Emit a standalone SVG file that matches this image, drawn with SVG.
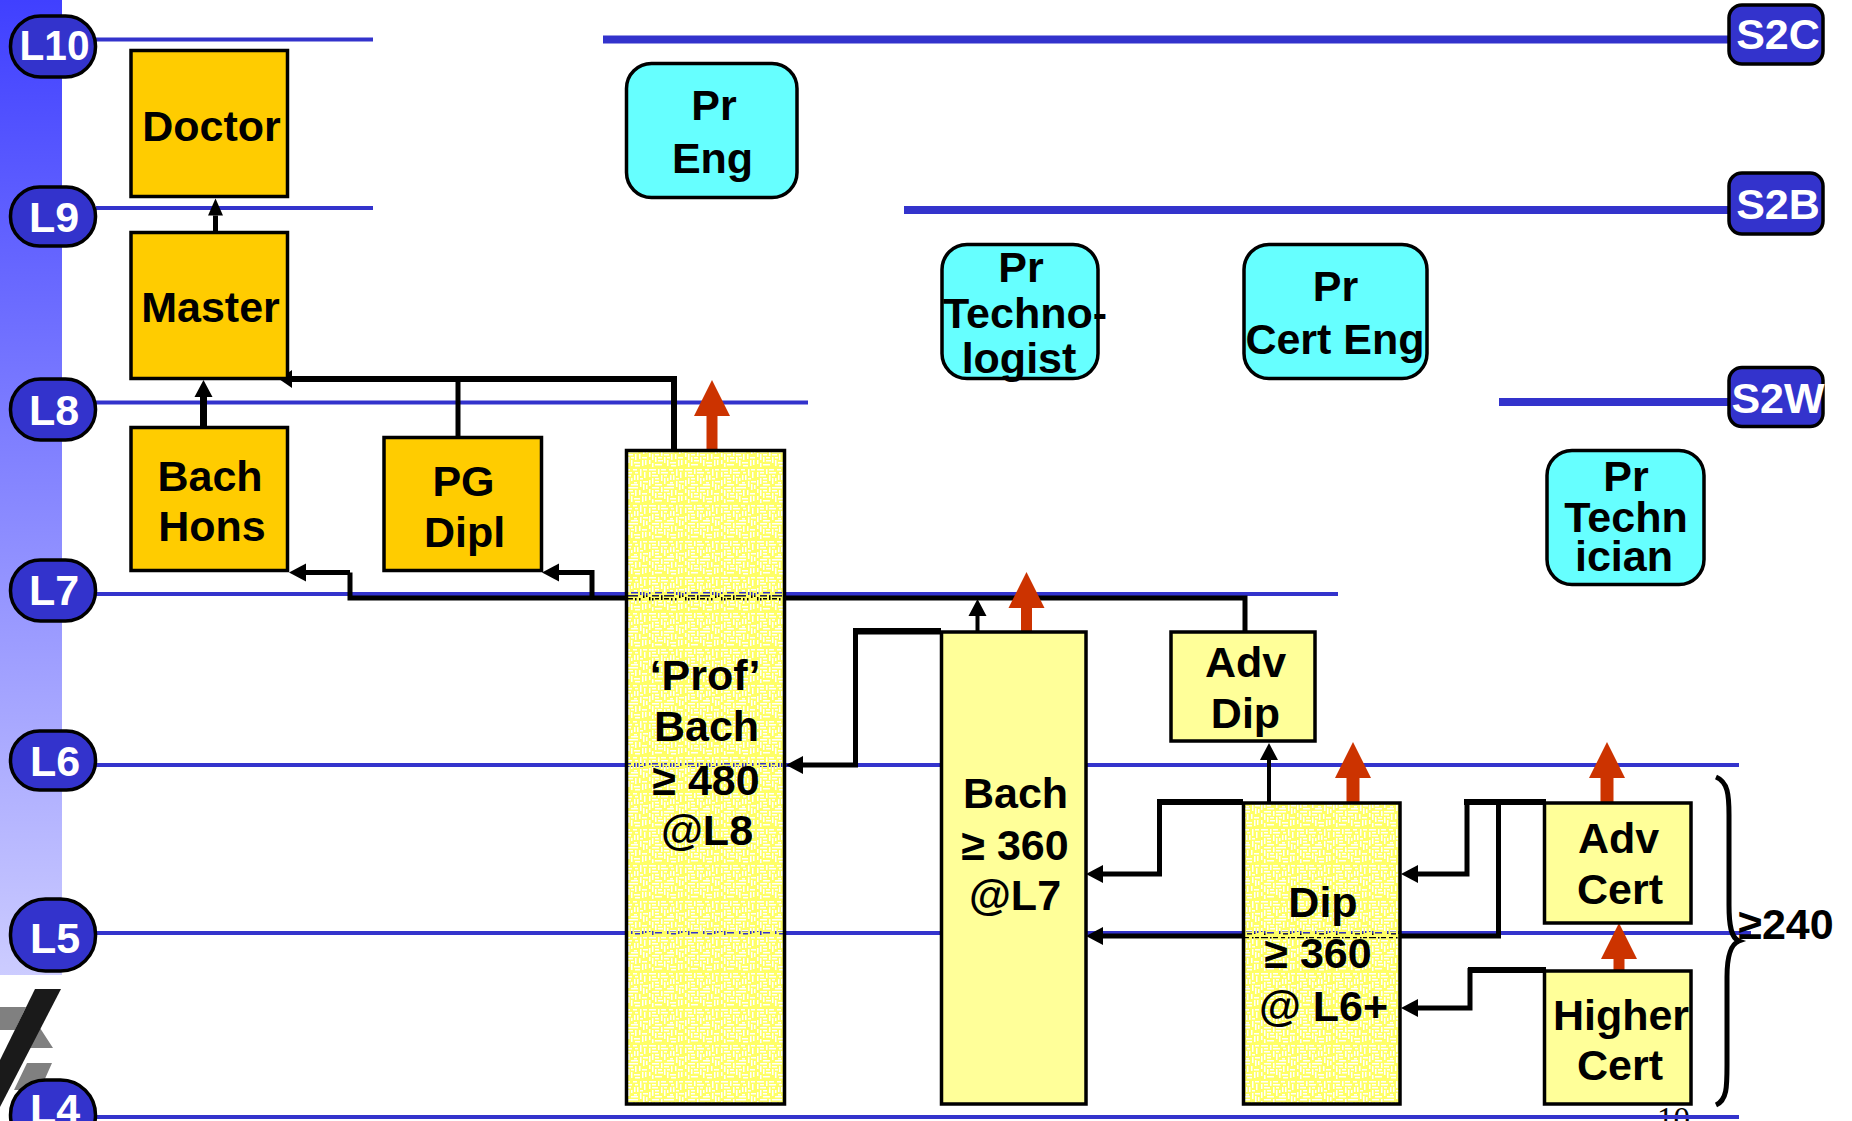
<svg xmlns="http://www.w3.org/2000/svg" width="1852" height="1121" viewBox="0 0 1852 1121">
<style>
text{font-family:"Liberation Sans",Arial,sans-serif;font-weight:bold;font-size:43px;fill:#000;text-anchor:middle}
.w{fill:#fff}
.pg{font-family:"Liberation Serif","Times New Roman",serif;font-weight:normal;font-size:33px}
.b{stroke:#000;stroke-width:3.500}
.o{fill:#ffcc00}
.y{fill:#ffff99}
.c{fill:#66ffff}
.t{fill:url(#tex)}
.p{fill:#3333cc}
.lv{stroke:#3333cc;stroke-width:4;fill:none}
.lvt{stroke:#3333cc;stroke-width:8;fill:none}
.k{fill:none;stroke:#000;stroke-width:5}
.st{fill:none;stroke:#000;stroke-width:6}
.r{fill:none;stroke:#cc3300;stroke-width:11}
</style>
<defs>
<linearGradient id="side" x1="0" y1="0" x2="0" y2="1"><stop offset="0" stop-color="#4040ff"/><stop offset="1" stop-color="#ccccff"/></linearGradient>
<pattern id="tex" patternUnits="userSpaceOnUse" width="36" height="36">
<path fill="#ffff66" fill-rule="evenodd" d="M0 0H36V36H0Z M1 1h7v1.500h-7z M10 1h1.500v5h-1.500z M13 1h5v1.500h-5z M21 1h4v1.500h-4z M28 1h1.500v7h-1.500z M31 1h4v1.500h-4z M1 4h1.500v5h-1.500z M4 4h4v1.500h-4z M13 4h7v1.500h-7z M23 4h3v1.500h-3z M32 4h1.500v6h-1.500z M4 7h6v1.500h-6z M13 7h1.500v6h-1.500z M16 7h3v1.500h-3z M22 7h1.500v5h-1.500z M25 7h1.500v5h-1.500z M4 10h1.500v6h-1.500z M7 10h4v1.500h-4z M16 10h1.500v6h-1.500z M19 10h1.500v3h-1.500z M28 10h3v1.500h-3z M7 13h4v1.500h-4z M22 14h3v1.500h-3z M28 13h1.500v6h-1.500z M31 13h5v1.500h-5z M1 12h1.500v6h-1.500z M7 16h7v1.500h-7z M19 16h7v1.500h-7z M31 16h1.500v6h-1.500z M34 17h1.500v4h-1.500z M4 19h7v1.500h-7z M13 19h1.500v5h-1.500z M16 19h10v1.500h-10z M1 21h1.500v4h-1.500z M4 22h1.500v6h-1.500z M7 22h4v1.500h-4z M16 22h5v1.500h-5z M23 22h1.500v6h-1.500z M27 22h1.500v5h-1.500z M7 25h1.500v5h-1.500z M10 25h4v1.500h-4z M16 25h1.500v6h-1.500z M19 25h3v1.500h-3z M30 25h5v1.500h-5z M1 28h1.500v4h-1.500z M10 28h5v1.500h-5z M19 28h1.500v6h-1.500z M30 28h1.500v6h-1.500z M33 28h1.500v5h-1.500z M4 31h1.500v4h-1.500z M7 32h7v1.500h-7z M22 30h6v1.500h-6z M23 33h5v1.500h-5z"/>
</pattern>
<marker id="ak" markerUnits="userSpaceOnUse" markerWidth="18" markerHeight="18" refX="0" refY="9" orient="auto" overflow="visible"><path d="M0 0L17 9L0 18Z" fill="#000"/></marker>
<marker id="ak2" markerUnits="userSpaceOnUse" markerWidth="18" markerHeight="15" refX="0" refY="7.500" orient="auto" overflow="visible"><path d="M0 0L17 7.500L0 15Z" fill="#000"/></marker>
<marker id="ar" markerUnits="userSpaceOnUse" markerWidth="37" markerHeight="37" refX="0" refY="18" orient="auto" overflow="visible"><path d="M0 0L36 18L0 36Z" fill="#cc3300"/></marker>
</defs>
<rect width="1852" height="1121" fill="#fff"/>
<rect id="sidebar" x="0" y="0" width="62" height="975" fill="url(#side)"/>
<g id="logo">
<path d="M0 1007H26L15 1030H0Z M40 1028L53 1048H29Z M27 1063H52L40 1090H14Z" fill="#808080"/>
<path d="M35 989H61L0 1107V1060Z" fill="#1a1a1a"/>
</g>
<text class="pg" x="1673.500" y="1130">10</text>
<g id="levels">
<path class="lv" d="M96 39.500H373M96 208H373M96 402.500H808M96 594H1338M96 765H1739M96 933H1751M96 1117H1739"/>
<path class="lvt" d="M603 39.500H1729M904 210H1729M1499 402H1729"/>
</g>
<g id="connectors">
<path class="k" d="M215.500 234V215.500" marker-end="url(#ak2)"/>
<path class="k" style="stroke-width:7" d="M203.500 427V397" marker-end="url(#ak)"/>
<path class="k" style="stroke-width:6" d="M292 379H674V450"/>
<path d="M292 370L279 379L292 388Z" fill="#000"/>
<path class="k" d="M458 379V437"/>
<path class="k" d="M350 572.500V598H1245V632"/>
<path class="k" d="M350 572.500H306" marker-end="url(#ak)"/>
<path class="k" d="M592 598V572.500H559" marker-end="url(#ak)"/>
<path class="k" style="stroke-width:4" d="M977.500 632V616" marker-end="url(#ak)"/>
<path class="r" d="M712 450V416" marker-end="url(#ar)"/>
<path class="r" d="M1026.500 632V608" marker-end="url(#ar)"/>
<path class="k" d="M941 632H855.500V765H803" marker-end="url(#ak)"/>
<path class="k" d="M1243 802.500H1159.500V874H1103" marker-end="url(#ak)"/>
<path class="k" style="stroke-width:4" d="M1269 803V760" marker-end="url(#ak)"/>
<path class="r" style="stroke-width:13" d="M1353 803V778" marker-end="url(#ar)"/>
<path class="r" style="stroke-width:13" d="M1607 803V778" marker-end="url(#ar)"/>
<path class="k" d="M1544 802.500H1467V874H1418" marker-end="url(#ak)"/>
<path class="k" d="M1498.500 802.500V936H1103" marker-end="url(#ak)"/>
<path class="r" d="M1619 971V959" marker-end="url(#ar)"/>
<path class="k" d="M1546 970.500H1470V1008H1418" marker-end="url(#ak)"/>
<path class="st" d="M941 631H853M1243 802H1157M1546 802H1464M1546 970H1468"/>
</g>
<g id="brace"><path d="M1716 777C1728 782 1729 795 1729 815V905C1729 925 1731 938 1739 941C1731 944 1727 957 1727 977V1065C1727 1087 1727 1100 1716 1105" fill="none" stroke="#000" stroke-width="5"/></g>
<g id="L10"><rect class="p b" x="10.500" y="16" width="85" height="61" rx="30"/><text class="w" x="54.500" y="60" textLength="70" lengthAdjust="spacingAndGlyphs">L10</text></g>
<g id="L9"><rect class="p b" x="10.500" y="187" width="85" height="59" rx="29"/><text class="w" x="54" y="232">L9</text></g>
<g id="L8"><rect class="p b" x="10.500" y="379" width="85" height="61" rx="30"/><text class="w" x="54" y="425">L8</text></g>
<g id="L7"><rect class="p b" x="10.500" y="560" width="85" height="61" rx="30"/><text class="w" x="54" y="605">L7</text></g>
<g id="L6"><rect class="p b" x="10.500" y="731" width="85" height="59" rx="29"/><text class="w" x="55" y="776">L6</text></g>
<g id="L5"><rect class="p b" x="10.500" y="899" width="85" height="72" rx="35"/><text class="w" x="55" y="953">L5</text></g>
<g id="L4"><rect class="p b" x="10.500" y="1080" width="85" height="70" rx="35"/><text class="w" x="55" y="1124">L4</text></g>
<g id="S2C"><rect class="p b" x="1729" y="5" width="94" height="59" rx="13"/><text class="w" x="1778" y="49">S2C</text></g>
<g id="S2B"><rect class="p b" x="1729" y="173" width="94" height="61" rx="13"/><text class="w" x="1778" y="218.500">S2B</text></g>
<g id="S2W"><rect class="p b" x="1729" y="367.500" width="94" height="59" rx="13"/><text class="w" x="1778" y="412.500">S2W</text></g>
<g id="doctor"><rect class="o b" x="131" y="50.500" width="156.500" height="146"/><text x="211.500" y="141">Doctor</text></g>
<g id="master"><rect class="o b" x="131" y="232.500" width="156.500" height="146"/><text x="210.500" y="322">Master</text></g>
<g id="bach-hons"><rect class="o b" x="131" y="427.500" width="156.500" height="143"/><text x="210" y="491">Bach</text><text x="212" y="541">Hons</text></g>
<g id="pg-dipl"><rect class="o b" x="384" y="437.500" width="157.500" height="133"/><text x="463.500" y="495.500">PG</text><text x="464.500" y="547">Dipl</text></g>
<g id="pr-eng"><rect class="c b" x="626.500" y="63.500" width="170.500" height="134" rx="25"/><text x="714" y="120">Pr</text><text x="712.500" y="172.500">Eng</text></g>
<g id="pr-technologist"><rect class="c b" x="942" y="244.500" width="156" height="134" rx="25"/><text x="1021" y="281.500">Pr</text><text x="1025" y="327.500">Techno-</text><text x="1019" y="373">logist</text></g>
<g id="pr-cert-eng"><rect class="c b" x="1244" y="244.500" width="183" height="134" rx="25"/><text x="1335.500" y="301">Pr</text><text x="1335" y="353.500">Cert Eng</text></g>
<g id="pr-technician"><rect class="c b" x="1547" y="450.500" width="157" height="134" rx="25"/><text x="1626" y="490.500">Pr</text><text x="1626" y="531.500">Techn</text><text x="1624" y="571">ician</text></g>
<g id="prof-bach"><rect class="t b" x="626.500" y="450.500" width="158" height="653.500"/><text x="705" y="690">‘Prof’</text><text x="706.500" y="740.500">Bach</text><text x="706" y="794.500">≥ 480</text><text x="707" y="844.500">@L8</text></g>
<g id="bach"><rect class="y b" x="941.500" y="632" width="144.500" height="472"/><text x="1015.500" y="808">Bach</text><text x="1015" y="859.500">≥ 360</text><text x="1015" y="909.500">@L7</text></g>
<g id="adv-dip"><rect class="y b" x="1171" y="632" width="144" height="109"/><text x="1245.500" y="676.500">Adv</text><text x="1245.500" y="727.500">Dip</text></g>
<g id="dip"><rect class="t b" x="1243.500" y="803" width="156.500" height="301"/><text x="1323" y="916.500">Dip</text><text x="1318" y="967.500">≥ 360</text><text x="1323.500" y="1020.500">@ L6+</text></g>
<g id="adv-cert"><rect class="y b" x="1544.500" y="803" width="146.500" height="120"/><text x="1618.500" y="852.500">Adv</text><text x="1620" y="904">Cert</text></g>
<g id="higher-cert"><rect class="y b" x="1544.500" y="971" width="146.500" height="133"/><text x="1621" y="1029.500">Higher</text><text x="1620" y="1080">Cert</text></g>
<text x="1786" y="938.500">≥240</text>
</svg>
